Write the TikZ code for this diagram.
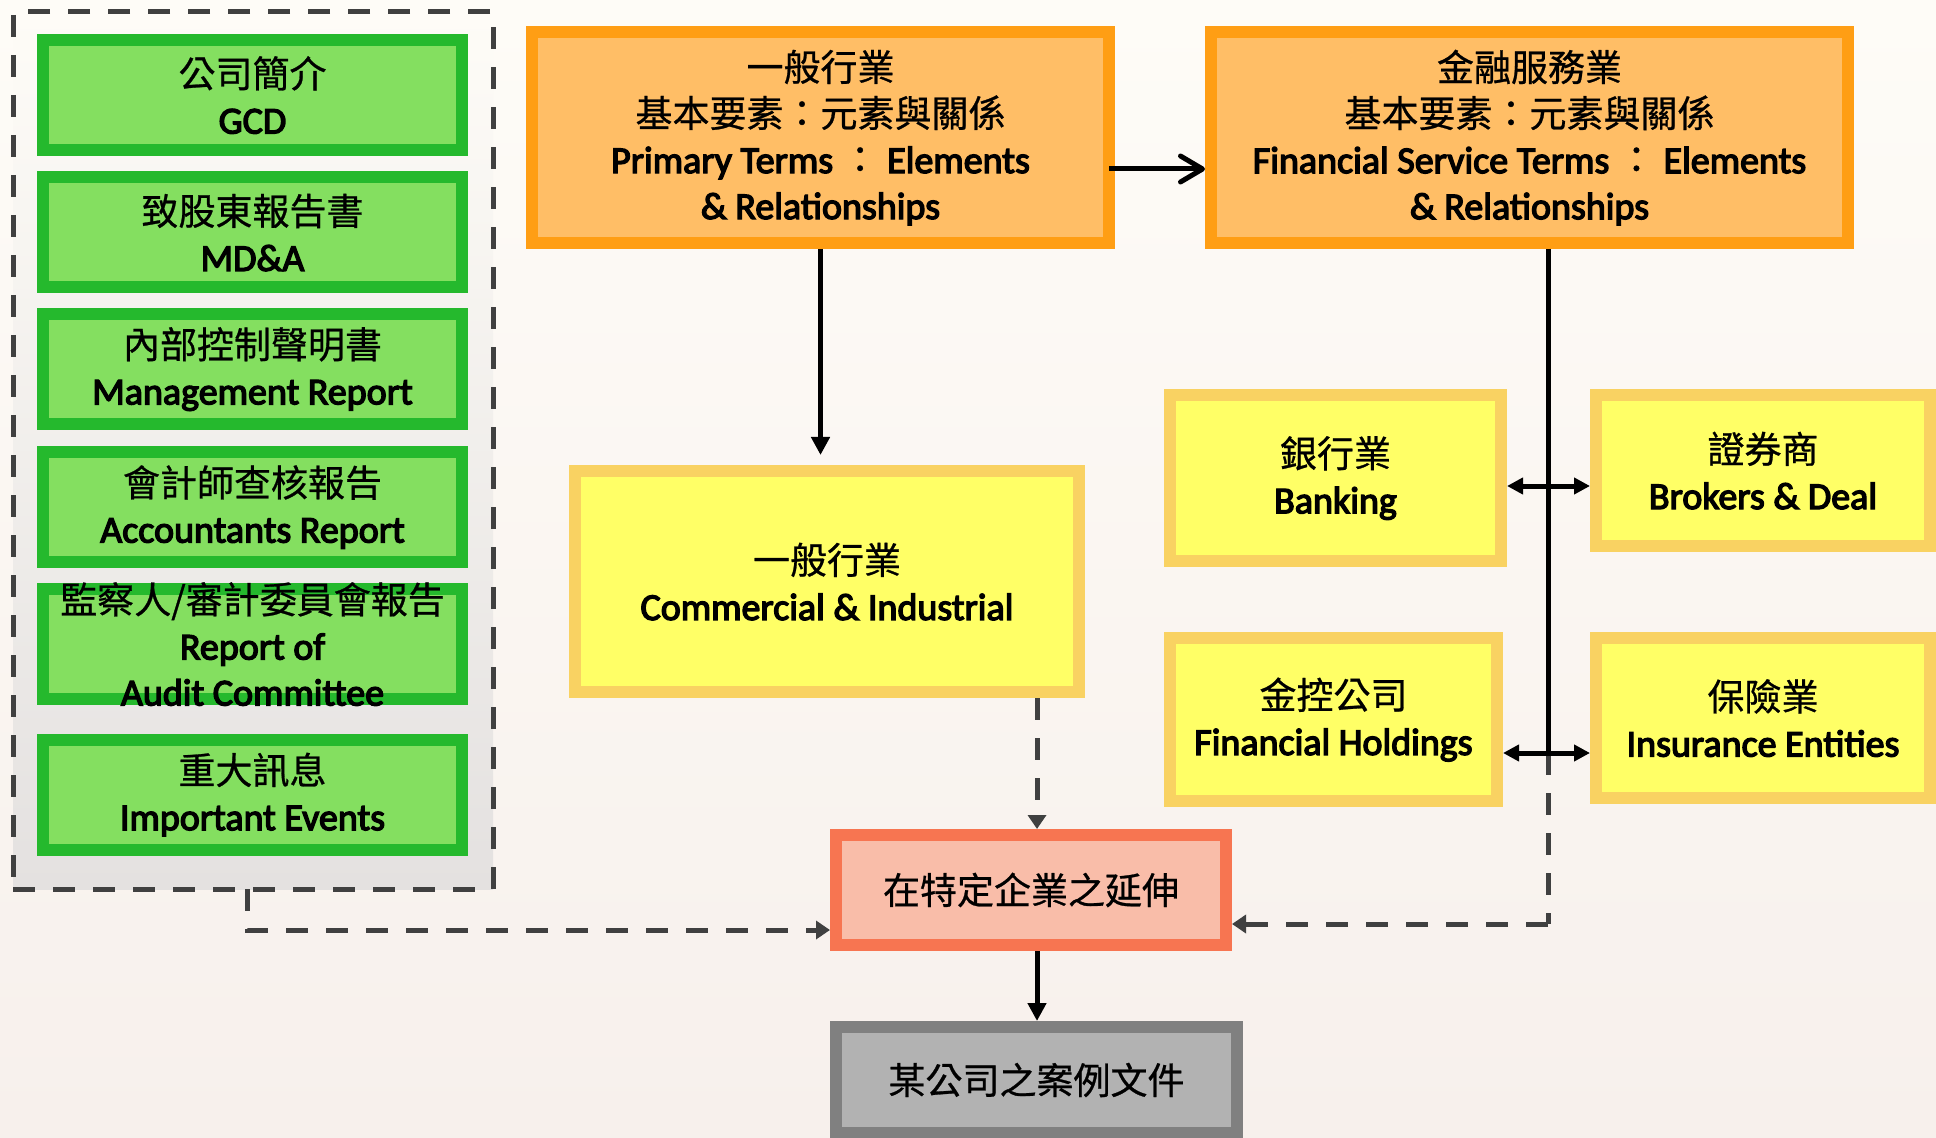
\documentclass[tikz,border=0pt]{standalone}
\usepackage{fontspec}
\setmainfont{Carlito}
\newfontfamily\enb{Carlito}[FakeBold=3.5]
\newfontfamily\cjk{Noto Sans CJK TC}[FakeBold=0.7]
\usetikzlibrary{arrows.meta}
\definecolor{bgtop}{HTML}{FEFCF7}
\definecolor{bgbot}{HTML}{F7F0EC}
\definecolor{frfill}{HTML}{E4E1E0}
\definecolor{gfill}{HTML}{84DF60}
\definecolor{gborder}{HTML}{25B92D}
\definecolor{ofill}{HTML}{FFBE66}
\definecolor{oborder}{HTML}{FF9E14}
\definecolor{yfill}{HTML}{FFFF66}
\definecolor{yborder}{HTML}{F9D262}
\definecolor{rfill}{HTML}{F9BDA9}
\definecolor{rborder}{HTML}{F77551}
\definecolor{grfill}{HTML}{B2B2B2}
\definecolor{grborder}{HTML}{808080}
\definecolor{dashcol}{HTML}{404040}
\newcommand\zh[1]{{\cjk\fontsize{18.5pt}{23pt}\selectfont #1}}
\tikzset{
  txt/.style={align=center, inner sep=0pt, font=\enb\fontsize{19pt}{23pt}\selectfont},
  box/.style={txt, draw, line width=6pt, outer sep=3pt},
  gbox/.style={box, draw=gborder, fill=gfill, minimum width=209.5pt, minimum height=55pt},
  obox/.style={box, draw=oborder, fill=ofill, minimum height=105.5pt},
  ybox/.style={box, draw=yborder, fill=yfill},
  rbox/.style={box, draw=rborder, fill=rfill},
  grbox/.style={box, draw=grborder, fill=grfill},
  frame/.style={draw=dashcol, line width=2.5pt, dash pattern=on 11pt off 9pt, inner sep=0pt, outer sep=0pt},
  conn/.style={line width=2.5pt, black},
  dconn/.style={line width=2.5pt, dashcol, dash pattern=on 11pt off 9pt},
  tri/.style={-{Triangle[length=9pt,width=9pt]}},
  dtri/.style={-{Triangle[length=7pt,width=9pt]}},
  dbl/.style={{Triangle[length=8pt,width=8pt]}-{Triangle[length=8pt,width=8pt]}},
  barb/.style={-{Straight Barb[round,length=11pt,width=13pt]}}
}
\begin{document}
\begin{tikzpicture}[x=0.5pt,y=-0.5pt]
\useasboundingbox (0,0) rectangle (1936,1138);
\shade[top color=bgtop, bottom color=bgbot] (0,0) rectangle (1936,1138);

% left dashed frame
\node[frame, top color=bgtop, bottom color=frfill, minimum width=240pt, minimum height=438.5pt] (frame) at (253,450.5) {};

% green boxes
\node[gbox] (g1) at (252.5,95) {\zh{公司簡介}\\GCD};
\node[gbox] (g2) at (252.5,232.5) {\zh{致股東報告書}\\MD\&A};
\node[gbox] (g3) at (252.5,369) {\zh{內部控制聲明書}\\Management Report};
\node[gbox] (g4) at (252.5,507) {\zh{會計師查核報告}\\Accountants Report};
\node[gbox] (g5) at (252.5,644) {};
\node[txt] (g5t) at (g5.center) {\zh{監察人/審計委員會報告}\\Report of\\Audit Committee};
\node[gbox] (g6) at (252.5,794.5) {\zh{重大訊息}\\Important Events};

% orange boxes
\node[obox, minimum width=288.5pt] (o1) at (820.5,137.5)
  {\zh{一般行業}\\\zh{基本要素：元素與關係}\\Primary Terms \zh{：} Elements\\\& Relationships};
\node[obox, minimum width=318.5pt] (o2) at (1529.5,137.5)
  {\zh{金融服務業}\\\zh{基本要素：元素與關係}\\Financial Service Terms \zh{：} Elements\\\& Relationships};

% yellow boxes
\node[ybox, minimum width=252pt, minimum height=110.5pt] (ci) at (827,581.5) {\zh{一般行業}\\Commercial \& Industrial};
\node[ybox, minimum width=165.5pt, minimum height=83pt] (bank) at (1335.5,478) {\zh{銀行業}\\Banking};
\node[ybox, minimum width=167pt, minimum height=75.5pt] (brok) at (1763,470.5) {\zh{證券商}\\Brokers \& Deal};
\node[ybox, minimum width=163.5pt, minimum height=81.5pt] (fin) at (1333.5,719.5) {\zh{金控公司}\\Financial Holdings};
\node[ybox, minimum width=167pt, minimum height=80pt] (ins) at (1763,718) {\zh{保險業}\\Insurance Entities};

% red and gray boxes
\node[rbox, minimum width=195pt, minimum height=55pt] (red) at (1031,890) {\zh{在特定企業之延伸}};
\node[grbox, minimum width=200.5pt, minimum height=53pt] (gray) at (1036.5,1080) {\zh{某公司之案例文件}};

% helper coordinates
\coordinate (vx) at (1548,0);
\coordinate (dx) at (1037,0);
\coordinate (fx) at (247,0);
\coordinate (hy) at (0,169);
\coordinate (y1) at (0,486);
\coordinate (y2) at (0,753);
\coordinate (y3) at (0,924);
\coordinate (y4) at (0,930);

% connectors
\draw[conn, barb, shorten <=-3pt] (o1.east |- hy) -- (o2.west |- hy);
\draw[conn, tri, shorten >=5pt] (o1.south) -- (o1.south |- ci.north);
\draw[conn] (o2.south -| vx) -- (vx |- y2);
\draw[dconn] (vx |- y2) -- (vx |- y3);
\draw[dconn, dtri] (vx |- y3) -- (red.east |- y3);
\draw[conn, dbl] (bank.east |- y1) -- (brok.west |- y1);
\draw[conn, dbl] (fin.east |- y2) -- (ins.west |- y2);
\draw[dconn, dtri] (ci.south -| dx) -- (red.north -| dx);
\draw[conn, tri] (red.south -| dx) -- (gray.north -| dx);
\draw[dconn, dtri] (frame.south -| fx) |- (red.west |- y4);
\end{tikzpicture}
\end{document}
